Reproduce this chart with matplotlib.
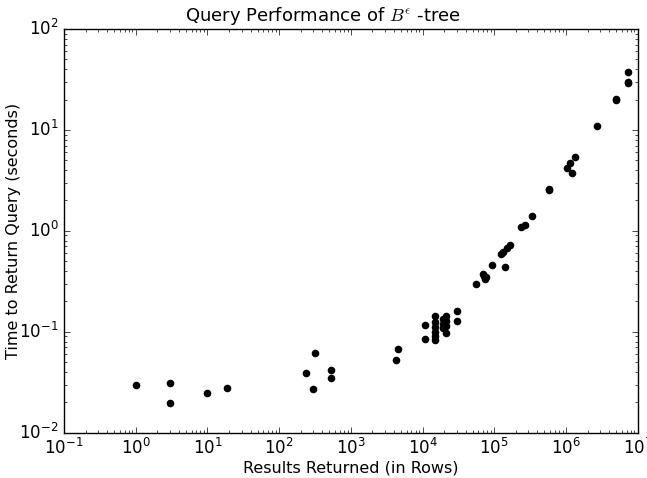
import matplotlib
matplotlib.use("Agg")
import matplotlib.pyplot as plt

plt.style.use('classic')
plt.rcParams['mathtext.fontset'] = 'cm'
plt.rcParams['font.size'] = 12

# rows returned vs. query time
rows = [1, 3, 3, 10, 19, 237, 297, 316, 530, 530, 4270, 4550,
        10800, 10800,
        14900, 14900, 14900, 14900, 14900, 14900,
        19500, 19500, 19500,
        21000, 21000, 21000, 21000,
        30600, 30600,
        55200, 69000, 72000, 74300, 76000, 94000,
        123000, 134000, 141000, 149000, 166000,
        237000, 269000, 336000, 581000, 581000,
        1030000, 1140000, 1220000, 1340000,
        2720000, 5000000, 5000000, 7350000, 7350000, 7350000]
secs = [0.0296, 0.031, 0.0196, 0.0247, 0.0277, 0.039, 0.027, 0.0615, 0.0417, 0.0348, 0.0525, 0.0675,
        0.085, 0.118,
        0.143, 0.125, 0.111, 0.099, 0.0906, 0.0837,
        0.135, 0.12, 0.108,
        0.143, 0.128, 0.113, 0.098,
        0.161, 0.128,
        0.297, 0.371, 0.355, 0.33, 0.345, 0.458,
        0.589, 0.62, 0.44, 0.67, 0.72,
        1.09, 1.14, 1.40, 2.59, 2.53,
        4.19, 4.7, 3.74, 5.38,
        10.9, 19.8, 20.2, 29.9, 29.0, 37.5]

fig = plt.figure(figsize=(6.47, 4.78), dpi=100, facecolor='white')
ax = fig.add_subplot(111)
fig.subplots_adjust(left=64 / 647.0, right=637.7 / 647.0,
                    bottom=1 - 432.7 / 478.0, top=1 - 29 / 478.0)

ax.scatter(rows, secs, s=20, c='k', edgecolors='k')
ax.set_xscale('log')
ax.set_yscale('log')
ax.set_xlim(1e-1, 1e7)
ax.set_ylim(1e-2, 1e2)

# title sits at the figure centre, not the axes centre
fig.suptitle(r"Query Performance of $B^\epsilon$ -tree", fontsize=13,
             y=1 - 16 / 478.0, va='center')
ax.set_xlabel("Results Returned (in Rows)", fontsize=11.5, va='center')
ax.set_ylabel("Time to Return Query (seconds)", fontsize=11.5, va='center')
ax.xaxis.set_label_coords(0.5, -(468 - 432.7) / 403.7)
ax.yaxis.set_label_coords(-(64 - 14) / 573.7, 0.5)

fig.savefig("out.png", dpi=100, facecolor='white')
